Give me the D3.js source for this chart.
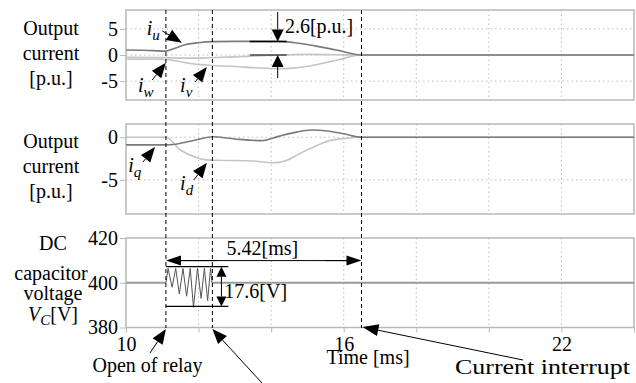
<!DOCTYPE html>
<html>
<head>
<meta charset="utf-8">
<script src="https://cdn.jsdelivr.net/npm/d3@7"></script>
<style>
  html, body { margin: 0; padding: 0; background: #fff; }
  svg text { font-family: "Liberation Serif", "Times New Roman", serif; fill: #000; }
</style>
</head>
<body>
<div id="chart"></div>
<script>
// time axis [ms]
const timeDomain = [10, 24];
const timeGrid = [12, 14, 16, 18, 20, 22];
const timeTicks = [10, 12, 14, 16, 18, 20, 22, 24];
const timeLabels = [10, 16, 22];

// event times [ms]
const eventTimes = [11.1, 12.38, 16.49];

// panel 1: phase currents [p.u.]
const iu = [[10, 0.95], [10.5, 0.9], [11.1, 0.75], [11.35, 1.3], [11.6, 1.9], [12, 2.35], [12.4, 2.55], [13, 2.6],
  [14.2, 2.6], [14.6, 2.4], [15.2, 1.75], [15.8, 0.95], [16.49, 0], [24, 0]];
const iv = [[10, -0.8], [11.1, -0.85], [11.5, -1.3], [12, -1.8], [12.4, -2.0], [13, -2.2], [13.6, -2.45],
  [14.2, -2.6], [14.6, -2.5], [15.2, -1.9], [15.8, -1.0], [16.49, 0], [24, 0]];
const iw = [[10, -0.45], [11.1, -0.5], [11.6, -0.6], [12.2, -0.55], [12.8, -0.4], [13.5, -0.2], [14.2, 0],
  [15, 0.12], [15.8, 0.05], [16.49, 0], [24, 0]];
const yTicks1 = [5, 0, -5];

// panel 2: dq currents [p.u.]
const iq = [[10, -0.9], [11.1, -0.9], [11.3, -0.85], [11.8, -0.45], [12.4, 0.05], [13.0, -0.2], [13.74, -0.4],
  [14.2, 0.1], [14.7, 0.6], [15.1, 0.85], [15.6, 0.7], [16.0, 0.4], [16.49, 0], [24, 0]];
const id = [[10, 0], [11.1, 0], [11.5, -1.5], [11.95, -2.4], [12.22, -2.65], [12.5, -2.7], [13.4, -2.75],
  [14.05, -3.0], [14.4, -2.75], [14.8, -1.9], [15.2, -1.1], [15.6, -0.4], [16.0, -0.15], [16.49, 0], [24, 0]];
const yTicks2 = [0, -5];

// panel 3: DC capacitor voltage [V]
const vcBefore = [[10, 400], [11.1, 400]];
const vcRipple = [[11.1, 400], [11.16, 406.4], [11.27, 398], [11.37, 406.4], [11.47, 395], [11.57, 406.4],
  [11.67, 394], [11.77, 406.4], [11.86, 389], [11.97, 406.4], [12.07, 393], [12.16, 406.4], [12.25, 392],
  [12.33, 406.4], [12.37, 400]];
const vcAfter = [[12.37, 400], [24, 400]];
const yTicks3 = [420, 400, 380];

const width = 636, height = 383;
const serif = '"Liberation Serif", "Times New Roman", serif';
const svg = d3.select('#chart').append('svg')
  .attr('width', width)
  .attr('height', height);

const x = d3.scaleLinear().domain(timeDomain).range([126, 634]);
const y1 = d3.scaleLinear().domain([-8.6, 8.6]).range([100, 10]);
const y2 = d3.scaleLinear().domain([-9, 1.55]).range([214, 124]);
const y3 = d3.scaleLinear().domain([380, 420]).range([327.5, 238]);

const gridColor = '#bdbdbd';
const borderColor = '#b8b8b8';
const darkLine = '#7a7a7a';
const lightLine = '#c4c4c4';

function drawPanel(y, ticks, gridValues) {
  const g = svg.append('g');
  const [b, t] = y.range();

  // dotted grid
  g.selectAll('.vgrid').data(timeGrid).enter().append('line')
    .attr('x1', d => x(d)).attr('x2', d => x(d))
    .attr('y1', t).attr('y2', b)
    .attr('stroke', gridColor).attr('stroke-width', 1)
    .attr('stroke-dasharray', '1.5,3');
  g.selectAll('.hgrid').data(gridValues).enter().append('line')
    .attr('x1', x.range()[0]).attr('x2', x.range()[1])
    .attr('y1', d => y(d)).attr('y2', d => y(d))
    .attr('stroke', gridColor).attr('stroke-width', 1)
    .attr('stroke-dasharray', '1.5,3');

  // frame
  g.append('rect')
    .attr('x', x.range()[0]).attr('y', t)
    .attr('width', x.range()[1] - x.range()[0]).attr('height', b - t)
    .attr('fill', 'none').attr('stroke', borderColor).attr('stroke-width', 1.5);

  // y axis
  const ax = g.append('g')
    .attr('transform', `translate(${x.range()[0]},0)`)
    .call(d3.axisLeft(y).tickValues(ticks).tickSize(6).tickPadding(2).tickFormat(d => String(d)));
  ax.select('.domain').remove();
  ax.selectAll('line').attr('stroke', borderColor);
  ax.selectAll('text')
    .style('font-family', serif)
    .style('font-size', '20px')
    .attr('fill', '#000');
  return g;
}

drawPanel(y1, yTicks1, [5, 0, -5]);
drawPanel(y2, yTicks2, [0, -5]);
drawPanel(y3, yTicks3, []);

// bottom time axis
const xAxis = svg.append('g')
  .attr('transform', `translate(0,${y3.range()[0]})`)
  .call(d3.axisBottom(x).tickValues(timeTicks).tickSize(5).tickPadding(4)
    .tickFormat(d => timeLabels.includes(d) ? String(d) : ''));
xAxis.select('.domain').remove();
xAxis.selectAll('line').attr('stroke', borderColor);
xAxis.selectAll('text')
  .style('font-family', serif)
  .style('font-size', '20px')
  .attr('fill', '#000');

// data lines
const line1 = d3.line().x(d => x(d[0])).y(d => y1(d[1])).curve(d3.curveMonotoneX);
const line2 = d3.line().x(d => x(d[0])).y(d => y2(d[1])).curve(d3.curveMonotoneX);
const line3 = d3.line().x(d => x(d[0])).y(d => y3(d[1]));

function addPath(data, gen, stroke, w) {
  svg.append('path')
    .datum(data)
    .attr('d', gen)
    .attr('fill', 'none')
    .attr('stroke', stroke)
    .attr('stroke-width', w);
}

addPath(iw, line1, lightLine, 1.6);
addPath(iv, line1, lightLine, 1.6);
addPath(iu, line1, darkLine, 1.6);
addPath(id, line2, lightLine, 1.6);
addPath(iq, line2, darkLine, 1.6);
addPath(vcBefore, line3, '#9a9a9a', 1.8);
addPath(vcAfter, line3, '#9a9a9a', 1.8);
addPath(vcRipple, line3, '#555', 1);

// event dashed lines
svg.selectAll('.event').data(eventTimes).enter().append('line')
  .attr('x1', d => x(d)).attr('x2', d => x(d))
  .attr('y1', 10).attr('y2', 328)
  .attr('stroke', '#000').attr('stroke-width', 1)
  .attr('stroke-dasharray', '4,3');

// arrows (drawn as line + triangle head)
function arrow(x1, y1p, x2, y2p, headLen = 15, headW = 12) {
  const dx = x2 - x1, dy = y2p - y1p;
  const len = Math.sqrt(dx * dx + dy * dy);
  const ux = dx / len, uy = dy / len;
  const bx = x2 - ux * headLen, by = y2p - uy * headLen;
  svg.append('line')
    .attr('x1', x1).attr('y1', y1p).attr('x2', bx).attr('y2', by)
    .attr('stroke', '#000').attr('stroke-width', 1);
  svg.append('path')
    .attr('d', `M${x2},${y2p}L${bx - uy * headW / 2},${by + ux * headW / 2}L${bx + uy * headW / 2},${by - ux * headW / 2}Z`)
    .attr('fill', '#000');
}

function hline(t1, t2, yp, w = 1) {
  svg.append('line')
    .attr('x1', x(t1)).attr('x2', x(t2)).attr('y1', yp).attr('y2', yp)
    .attr('stroke', '#000').attr('stroke-width', w);
}

function label(xp, yp, txt, size = 20, anchor = 'start') {
  return svg.append('text')
    .attr('x', xp).attr('y', yp)
    .attr('text-anchor', anchor)
    .style('font-family', serif)
    .style('font-size', size + 'px')
    .text(txt);
}

function italicSub(xp, yp, main, sub) {
  const t = svg.append('text')
    .attr('x', xp).attr('y', yp)
    .style('font-family', serif)
    .style('font-size', '20px')
    .style('font-style', 'italic');
  t.append('tspan').text(main);
  t.append('tspan').attr('dy', 5).style('font-size', '15px').text(sub);
}

// y-axis titles
[['Output', 35], ['current', 60], ['[p.u.]', 85]].forEach(([s, yy]) => label(51, yy, s, 20, 'middle'));
[['Output', 148], ['current', 173], ['[p.u.]', 198]].forEach(([s, yy]) => label(51, yy, s, 20, 'middle'));
label(53, 250, 'DC', 20, 'middle');
label(51, 280, 'capacitor', 20, 'middle');
label(53, 300, 'voltage', 20, 'middle');
const vcLab = svg.append('text').attr('x', 53).attr('y', 321).attr('text-anchor', 'middle')
  .style('font-family', serif).style('font-size', '20px');
vcLab.append('tspan').style('font-style', 'italic').text('V');
vcLab.append('tspan').attr('dy', 4).style('font-size', '15px').style('font-style', 'italic').text('C');
vcLab.append('tspan').attr('dy', -4).text('[V]');

// panel 1 annotations
italicSub(x(10.57), y1(3.8), 'i', 'u');
arrow(x(11.0), y1(4.6), x(11.54), y1(2.35));
italicSub(x(10.33), y1(-7.0), 'i', 'w');
arrow(x(10.72), y1(-4.8), x(11.1), y1(-1.5));
italicSub(x(11.49), y1(-7.0), 'i', 'v');
arrow(x(11.9), y1(-5.2), x(12.23), y1(-2.3));

const tAmp = 14.18;
hline(13.41, 14.43, y1(2.6), 1.5);
hline(13.41, 14.43, y1(0), 1.2);
arrow(x(tAmp), y1(8.2), x(tAmp), y1(2.6), 12, 12);
arrow(x(tAmp), y1(-4.4), x(tAmp), y1(0), 12, 12);
label(x(14.38), y1(4.2), '2.6[p.u.]');

// panel 2 annotations
italicSub(x(10.06), y2(-4.05), 'i', 'q');
arrow(x(10.47), y2(-2.9), x(10.8), y2(-1.15));
italicSub(x(11.49), y2(-6.2), 'i', 'd');
arrow(x(11.87), y2(-5.0), x(12.23), y2(-3.0));

// panel 3 annotations
const yDur = y3(409.9);
svg.append('line')
  .attr('x1', x(eventTimes[0]) + 14).attr('x2', x(eventTimes[2]) - 14)
  .attr('y1', yDur).attr('y2', yDur)
  .attr('stroke', '#000').attr('stroke-width', 1);
arrow(x(12.5), yDur, x(eventTimes[0]), yDur, 15, 10);
arrow(x(15.5), yDur, x(eventTimes[2]), yDur, 15, 10);
label(x(12.77), y3(412.4), '5.42[ms]');

const vTop = 407.2, vBot = 389.4, tV = 12.63;
hline(11.1, 12.82, y3(vTop), 1.2);
hline(11.1, 12.82, y3(vBot), 1.2);
arrow(x(tV), y3(400), x(tV), y3(vTop), 10, 10);
arrow(x(tV), y3(400), x(tV), y3(vBot), 10, 10);
label(x(12.71), y3(393), '17.6[V]');

// below-axis annotations
label(368, 364, 'Time [ms]', 20, 'middle');
label(147.5, 372, 'Open of relay', 20, 'middle');
arrow(150, 353, x(eventTimes[0]), 329, 15, 12);
arrow(262, 383, x(eventTimes[1]), 329, 15, 12);
label(236, 399, 'and termination of fault', 20, 'start');
arrow(523, 360, x(eventTimes[2]) + 1, 327, 16, 12);
label(455, 374, 'Current interrupt', 22, 'start')
  .attr('textLength', 175).attr('lengthAdjust', 'spacingAndGlyphs');
</script>
</body>
</html>
